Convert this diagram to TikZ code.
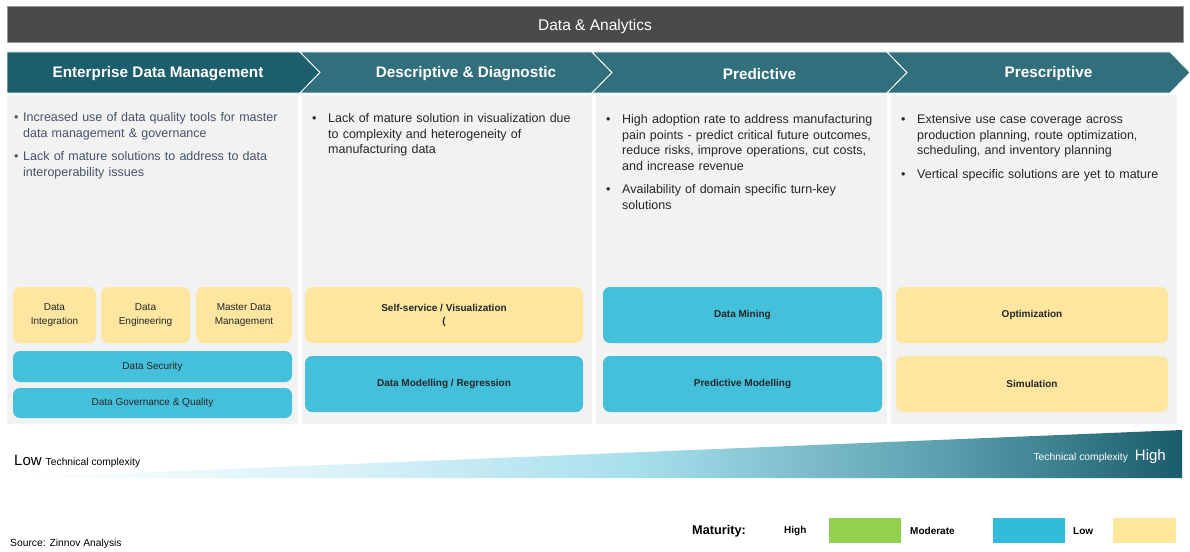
\documentclass[tikz,border=0pt]{standalone}
\usepackage{fontspec}
\setmainfont{Liberation Sans}
\usepackage{tikz}
\usetikzlibrary{positioning, shapes.geometric}
\definecolor{bardark}{RGB}{75,74,73}
\definecolor{bargray}{RGB}{150,150,150}
\definecolor{chevdark}{RGB}{29,94,108}
\definecolor{chevmid}{RGB}{49,111,124}
\definecolor{panelgray}{RGB}{242,242,242}
\definecolor{tileyellow}{RGB}{252,230,160}
\definecolor{tileblue}{RGB}{69,192,219}
\definecolor{notetext}{RGB}{38,38,38}
\definecolor{noteslate}{RGB}{68,84,106}
\definecolor{wedgepale}{RGB}{214,241,247}
\definecolor{wedgecyan}{RGB}{166,223,236}
\definecolor{wedgemid}{RGB}{90,159,174}
\definecolor{wedgeteal}{RGB}{27,92,106}
\definecolor{keygreen}{RGB}{146,208,80}
\definecolor{keyblue}{RGB}{49,188,217}
\definecolor{keyyellow}{RGB}{254,230,154}
\pgfdeclarehorizontalshading{cplx}{100bp}{color(0bp)=(white); color(25bp)=(white); color(40bp)=(wedgepale); color(52bp)=(wedgecyan); color(65bp)=(wedgemid); color(75bp)=(wedgeteal); color(100bp)=(wedgeteal)}
\newcommand{\bitem}[2]{\par\hangindent=#1\hangafter=1\noindent\makebox[#1][l]{\textbullet}#2\par}
\tikzset{
  panel/.style={rectangle, fill=panelgray, inner sep=0pt, outer sep=0pt, anchor=north west},
  tile/.style={rectangle, rounded corners=7pt, inner sep=0pt, align=center,
    font=\fontsize{10}{13}\selectfont\bfseries, text=notetext},
  lowtile/.style={tile, fill=tileyellow},
  modtile/.style={tile, fill=tileblue},
  hdr/.style={font=\fontsize{15.3}{18}\selectfont\bfseries, text=white},
  notes/.style={anchor=north west, inner sep=0pt, align=left, text=notetext,
    font=\fontsize{12.5}{15.7}\selectfont\setlength{\parskip}{7.5pt}},
  keybox/.style={rectangle, inner sep=0pt, minimum width=72pt, minimum height=25pt},
  keytext/.style={font=\fontsize{10}{12}\selectfont\bfseries, text=black, anchor=west, inner sep=0pt}
}

\begin{document}
\begin{tikzpicture}[x=1pt, y=-1pt]
  \useasboundingbox (0,0) rectangle (1190,551);

  % Title bar
  \node[rectangle, fill=bardark, draw=bargray, inner sep=0pt, anchor=north west,
    minimum width=1176pt, minimum height=36pt] (title) at (7,6) {};
  \node[text=white, inner sep=0pt, font=\fontsize{15.5}{18}\selectfont] (titletext) at (595,26) {Data \& Analytics};

  % Chevrons
  \fill[chevdark, draw=white, line width=0.8pt] (7,52) -- (300,52) -- (320,72.5) -- (300,93) -- (7,93) -- cycle;
  \node[hdr] (hedm) at (158,74) {Enterprise Data Management};
  \foreach \xa/\xb/\name/\lbl in {300/592/hdes/{Descriptive \& Diagnostic}, 592/887/hpre/Predictive, 887/1170/hpsc/Prescriptive}{
    \fill[chevmid, draw=white, line width=0.8pt] (\xa,52) -- (\xb,52) -- (\xb+20,72.5) -- (\xb,93) -- (\xa,93) -- (\xa+20,72.5) -- cycle;
    \node[hdr] (\name) at ({(\xa+\xb)/2+20},74) {\lbl};
  }

  % Panels
  \node[panel, minimum width=291pt, minimum height=329pt] (p1) at (7,95) {};
  \node[panel, minimum width=290pt, minimum height=329pt] (p2) at (302,95) {};
  \node[panel, minimum width=291pt, minimum height=329pt] (p3) at (596,95) {};
  \node[panel, minimum width=286pt, minimum height=329pt] (p4) at (891,95) {};

  % Notes
  \node[notes, text=noteslate, text width=285pt] (n1) at (14,98) {%
    \bitem{9pt}{Increased use of data quality tools for master\newline data management \& governance}%
    \bitem{9pt}{Lack of mature solutions to address to data\newline interoperability issues}};
  \node[notes, text width=285pt] (n2) at (312,99) {%
    \bitem{16pt}{Lack of mature solution in visualization due\newline to complexity and heterogeneity of\newline manufacturing data}};
  \node[notes, text width=285pt] (n3) at (606,100) {%
    \bitem{16pt}{High adoption rate to address manufacturing\newline pain points - predict critical future outcomes,\newline reduce risks, improve operations, cut costs,\newline and increase revenue}%
    \bitem{16pt}{Availability of domain specific turn-key\newline solutions}};
  \node[notes, text width=285pt] (n4) at (901,100) {%
    \bitem{16pt}{Extensive use case coverage across\newline production planning, route optimization,\newline scheduling, and inventory planning}%
    \bitem{16pt}{Vertical specific solutions are yet to mature}};

  % Tiles
  \node[lowtile, font=\fontsize{10}{14}\selectfont, minimum width=83pt, minimum height=56pt] (dint) at (54.5,315) {Data\\Integration};
  \node[lowtile, font=\fontsize{10}{14}\selectfont, minimum width=89pt, minimum height=56pt] (deng) at (145.5,315) {Data\\Engineering};
  \node[lowtile, font=\fontsize{10}{14}\selectfont, minimum width=96pt, minimum height=56pt] (mdm) at (244,315) {Master Data\\Management};
  \node[modtile, font=\fontsize{10}{14}\selectfont, minimum width=279pt, minimum height=31pt] (dsec) at (152.5,366.5) {Data Security};
  \node[modtile, font=\fontsize{10}{14}\selectfont, minimum width=279pt, minimum height=30pt] (dgov) at (152.5,403) {Data Governance \& Quality};

  \node[lowtile, minimum width=278pt, minimum height=56pt] (ssv) at (444,315) {Self-service / Visualization\\(};
  \node[modtile, minimum width=278pt, minimum height=56pt] (dmr) at (444,384) {Data Modelling / Regression};

  \node[modtile, minimum width=279pt, minimum height=56pt] (dmin) at (742.5,315) {Data Mining};
  \node[modtile, minimum width=279pt, minimum height=56pt] (pmod) at (742.5,384) {Predictive Modelling};

  \node[lowtile, minimum width=272pt, minimum height=56pt] (opt) at (1032,315) {Optimization};
  \node[lowtile, minimum width=272pt, minimum height=56pt] (sim) at (1032,384) {Simulation};

  % Complexity wedge
  \shade[shading=cplx] (7,478) -- (1182,430) -- (1182,478) -- cycle;
  \node[anchor=west, inner sep=0pt] (low) at (14,461) {\fontsize{15}{17}\selectfont Low\hspace{4pt}\fontsize{10.3}{12}\selectfont Technical complexity};
  \node[anchor=east, inner sep=0pt, text=white] (high) at (1166,457) {\fontsize{10.3}{12}\selectfont Technical complexity\hspace{7pt}\fontsize{15}{17}\selectfont High};

  % Source
  \node[anchor=west, inner sep=0pt, font=\fontsize{10.3}{12}\selectfont] (src) at (10,544) {Source: Zinnov Analysis};

  % Maturity key
  \node[anchor=west, inner sep=0pt, font=\fontsize{12.7}{14}\selectfont\bfseries] (mat) at (692,531) {Maturity:};
  \node[keytext] (khigh) at (784,531) {High};
  \node[keybox, fill=keygreen, anchor=west] (kgreen) at (829,530.5) {};
  \node[keytext] (kmod) at (910,531) {Moderate};
  \node[keybox, fill=keyblue, anchor=west] (kblue) at (993,530.5) {};
  \node[keytext] (klow) at (1073,531) {Low};
  \node[keybox, fill=keyyellow, anchor=west, minimum width=63pt] (kyellow) at (1113,530.5) {};
\end{tikzpicture}
\end{document}
